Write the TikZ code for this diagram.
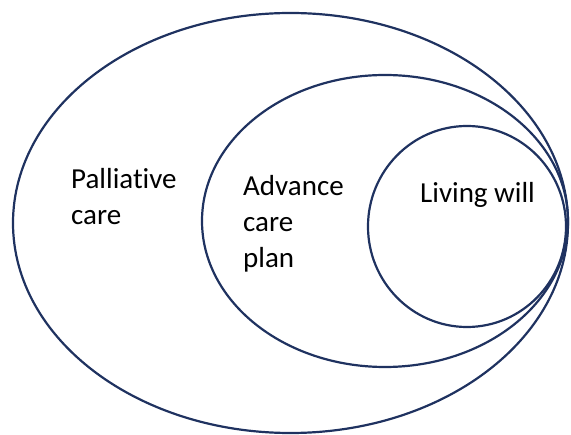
\documentclass[tikz,border=0pt]{standalone}
\usepackage{fontspec}
\setmainfont{Carlito}[Ligatures=NoCommon]
\usetikzlibrary{shapes.geometric}
\definecolor{ringblue}{HTML}{1F3260}
\tikzset{
ring/.style={
  ellipse,
  draw=ringblue,
  line width=2.2pt,
  inner sep=0pt
},
ringlabel/.style={
  anchor=base west,
  align=left,
  inner sep=0pt,
  font=\fontsize{29}{36}\selectfont
}
}

\begin{document}
\begin{tikzpicture}[x=1pt,y=-1pt]
\useasboundingbox (0,0) rectangle (571,435);

\node[ring, minimum width=555pt, minimum height=420pt] (pcare) at (290.5,223) {};
\node[ring, minimum width=366pt, minimum height=292pt] (acp) at (385,221) {};
\node[ring, minimum width=198pt, minimum height=201pt] (will) at (467,226.5) {};

% base is the last line of each label
\node[ringlabel] (pcaretext) at (71,225) {Palliative\\care};
\node[ringlabel] (acptext) at (243,268) {Advance\\care\\plan};
\node[ringlabel] (willtext) at (420,203) {Living will};

\end{tikzpicture}
\end{document}
